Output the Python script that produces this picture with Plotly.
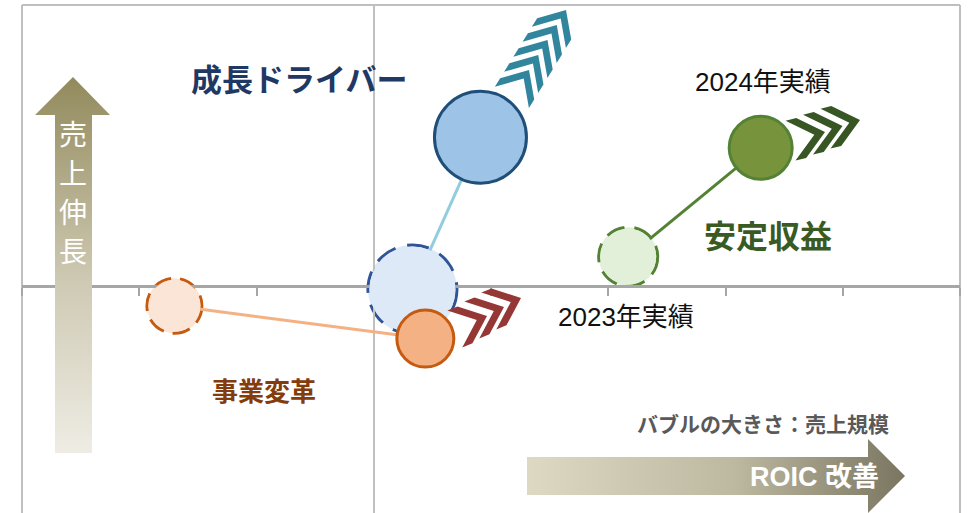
import math
import plotly.graph_objects as go

# ---------------- data ----------------
groups = ["成長ドライバー", "事業変革", "安定収益"]
roic_2023 = [0.33, -1.70, 2.17]      # x: ROIC change
growth_2023 = [-0.03, -0.17, 0.25]   # y: sales growth
roic_2024 = [0.91, 0.44, 3.30]
growth_2024 = [1.27, -0.45, 1.18]
sales_2023 = [9.2, 5.8, 6.2]         # bubble size: sales scale
sales_2024 = [9.5, 6.0, 6.6]

label_2023 = "2023年実績"
label_2024 = "2024年実績"
legend_note = "バブルの大きさ：売上規模"
x_arrow_label = "ROIC 改善"
y_arrow_label = "売上伸長"

# ---------------- styles ----------------
line_colors = ["#93cddd", "#f4b183", "#548235"]
fill_2023 = ["#dde9f6", "#fbe5d6", "#e2f0d9"]
edge_2023 = ["#2f5597", "#c55a11", "#548235"]
fill_2024 = ["#9dc3e6", "#f4b183", "#77933c"]
edge_2024 = ["#1f4e79", "#c55a11", "#548235"]
dash_2023 = ["22px,12px", "18px,9px", "19px,10px"]
label_colors = ["#1f3864", "#843c0c", "#3a5a24"]
SCALE = 10.0   # px of diameter per sales unit
LW = 3

W, H = 974, 513
ML, MR, MT, MB = 22, 14, 5, 0
XR = [-3, 5]
YR = [-1.94, 2.4]
axis_pos = (0 - YR[0]) / (YR[1] - YR[0])

fig = go.Figure()

# connecting lines, 2023 fills, 2024 bubbles
for i in range(3):
    fig.add_trace(go.Scatter(
        x=[roic_2023[i], roic_2024[i]], y=[growth_2023[i], growth_2024[i]],
        mode="lines", line=dict(color=line_colors[i], width=3),
        hoverinfo="skip", showlegend=False))
    fig.add_trace(go.Scatter(
        x=[roic_2023[i]], y=[growth_2023[i]], mode="markers",
        marker=dict(size=[sales_2023[i] * SCALE - 2 * LW], color=fill_2023[i],
                    line=dict(width=0), opacity=1),
        name=groups[i] + " 2023", showlegend=False))
    fig.add_trace(go.Scatter(
        x=[roic_2024[i]], y=[growth_2024[i]], mode="markers",
        marker=dict(size=[sales_2024[i] * SCALE - LW], color=fill_2024[i],
                    line=dict(width=LW, color=edge_2024[i]), opacity=1),
        name=groups[i] + " 2024", showlegend=False))

shapes = []
# border (left, top, right)
for (x0, y0, x1, y1) in [(0, 0, 0, 1), (0, 1, 1, 1), (1, 1, 1, 0)]:
    shapes.append(dict(type="line", xref="paper", yref="paper", x0=x0, y0=y0,
                       x1=x1, y1=y1, line=dict(color="#bfbfbf", width=2),
                       layer="below"))
# dashed outlines of 2023 bubbles (pixel sized, anchored on data)
for i in range(3):
    r = sales_2023[i] * SCALE / 2 - LW / 2
    shapes.append(dict(type="circle", xref="x", yref="y",
                       xsizemode="pixel", ysizemode="pixel",
                       xanchor=roic_2023[i], yanchor=growth_2023[i],
                       x0=-r, x1=r, y0=-r, y1=r,
                       fillcolor=fill_2023[i],
                       line=dict(color=edge_2023[i], width=LW, dash=dash_2023[i]),
                       layer="below"))

# ---------------- decorations in pixel axes ----------------
def chevron(ax, ay, ang, L=31, half=41, t=11):
    th = math.radians(ang)
    fx, fy = math.cos(th), -math.sin(th)
    px, py = math.sin(th), math.cos(th)
    d = L * math.cos(math.radians(half))
    h = L * math.sin(math.radians(half))
    e1 = (ax - d * fx + h * px, ay - d * fy + h * py)
    e2 = (ax - d * fx - h * px, ay - d * fy - h * py)
    pts = [e1, (ax, ay), e2,
           (e2[0] - t * fx, e2[1] - t * fy), (ax - t * fx, ay - t * fy),
           (e1[0] - t * fx, e1[1] - t * fy), e1]
    return [p[0] for p in pts], [p[1] for p in pts]

chev_sets = [
    # start apex, step, count, angle, color, L, half, thickness
    ((529, 70), (9.25, -15.0), 5, 58, "#31859c", 30, 42, 10),
    ((487, 316), (17.0, -9.0), 3, 22, "#953735", 31, 40, 11),
    ((825, 132), (17.5, -6.0), 3, 14, "#375623", 32, 40, 11),
]
for (sx, sy), (dx, dy), n, ang, col, L, half, t in chev_sets:
    for k in range(n):
        xs, ys = chevron(sx + k * dx, sy + k * dy, ang, L=L, half=half, t=t)
        fig.add_trace(go.Scatter(x=xs, y=ys, mode="lines", fill="toself",
                                 fillcolor=col, line=dict(width=0, color=col),
                                 xaxis="x3", yaxis="y3", hoverinfo="skip",
                                 showlegend=False))

# vertical arrow (売上伸長)
vx = [55, 55, 35, 73, 110, 92, 92, 55]
vy = [453, 115, 115, 77, 115, 115, 453, 453]
fig.add_trace(go.Scatter(
    x=vx, y=vy, mode="lines", fill="toself", line=dict(width=0),
    fillgradient=dict(type="vertical",
                      colorscale=[[0, "#eeece4"], [0.45, "#cfcab4"], [1, "#928a5c"]],
                      start=453, stop=77),
    xaxis="x3", yaxis="y3", hoverinfo="skip", showlegend=False))

# horizontal arrow (ROIC 改善)
hx = [527, 868, 868, 905, 868, 868, 527, 527]
hy = [457, 457, 439, 476, 513, 495, 495, 457]
fig.add_trace(go.Scatter(
    x=hx, y=hy, mode="lines", fill="toself", line=dict(width=0),
    fillgradient=dict(type="horizontal",
                      colorscale=[[0, "#ddd9c2"], [0.55, "#bdb8a0"], [1, "#7a7560"]],
                      start=527, stop=905),
    xaxis="x3", yaxis="y3", hoverinfo="skip", showlegend=False))

CJK = "Noto Sans CJK JP"
NUM = "Liberation Sans, Arial, Noto Sans CJK JP"
annotations = [
    dict(text="<b>" + groups[0] + "</b>", x=299, y=77, font=dict(size=31, color=label_colors[0], family=CJK)),
    dict(text="<b>" + groups[2] + "</b>", x=768, y=234, font=dict(size=32, color=label_colors[2], family=CJK)),
    dict(text="<b>" + groups[1] + "</b>", x=264, y=389, font=dict(size=26, color=label_colors[1], family=CJK)),
    dict(text=label_2024, x=763, y=82, font=dict(size=26, color="#111111", family=NUM)),
    dict(text=label_2023, x=626, y=317, font=dict(size=26, color="#111111", family=NUM)),
    dict(text="<b>" + legend_note + "</b>", x=763, y=423, font=dict(size=21, color="#595959", family=CJK)),
    dict(text="<b>" + x_arrow_label + "</b>", x=881, y=477, xanchor="right",
         font=dict(size=27, color="white", family=NUM)),
]
for k, ch in enumerate(y_arrow_label):
    annotations.append(dict(text=ch, x=73, y=133 + k * 39,
                            font=dict(size=28, color="white", family=CJK)))
for a in annotations:
    a.update(xref="x3", yref="y3", showarrow=False)
    a.setdefault("xanchor", "center")
    a.setdefault("yanchor", "middle")

fig.update_layout(
    width=W, height=H, margin=dict(l=ML, r=MR, t=MT, b=MB, pad=0),
    paper_bgcolor="white", plot_bgcolor="white",
    showlegend=False, shapes=shapes, annotations=annotations,
    xaxis=dict(range=XR, anchor="free", position=axis_pos, showline=True,
               linecolor="#a6a6a6", linewidth=3, ticks="outside", ticklen=8,
               tickwidth=2, tickcolor="#a6a6a6", dtick=1, tick0=0,
               showticklabels=False, showgrid=False, zeroline=True,
               zerolinecolor="#bfbfbf", zerolinewidth=2, layer="below traces",
               fixedrange=True),
    yaxis=dict(range=YR, showgrid=False, zeroline=False, showline=False,
               showticklabels=False, ticks="", fixedrange=True),
    xaxis3=dict(range=[ML, W - MR], overlaying="x", anchor="y3", visible=False,
                fixedrange=True),
    yaxis3=dict(range=[H - MB, MT], overlaying="y", anchor="x3", visible=False,
                fixedrange=True),
)

fig.write_html("out.html")
